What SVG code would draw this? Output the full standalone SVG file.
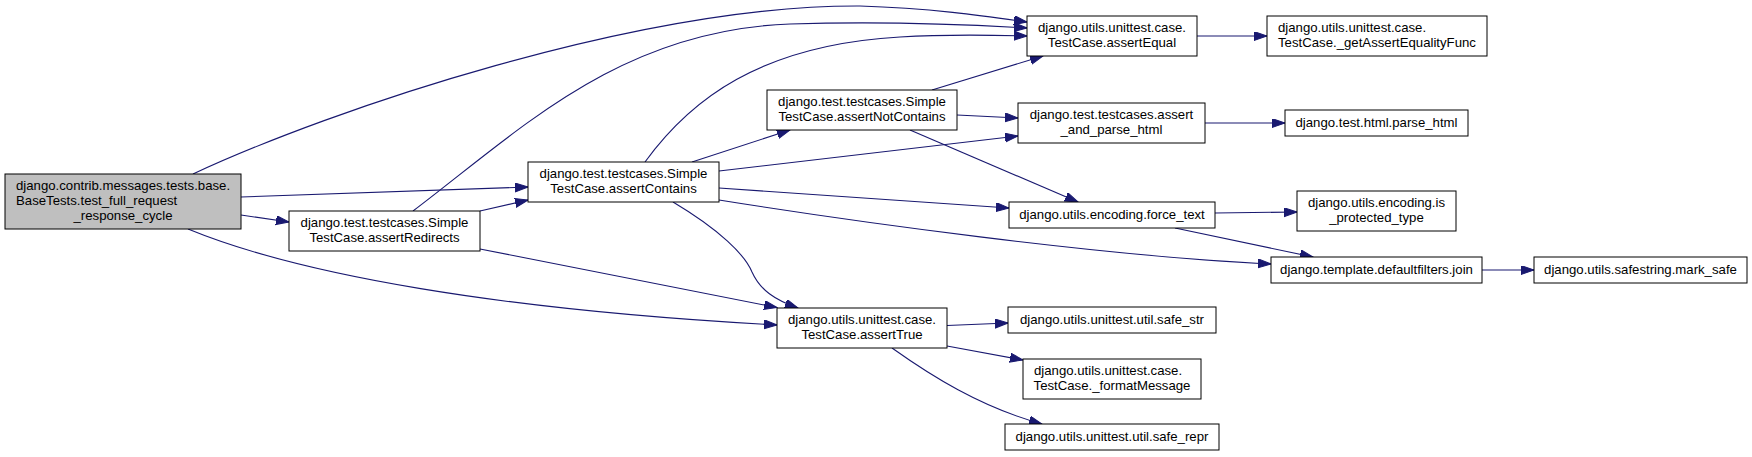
<svg xmlns="http://www.w3.org/2000/svg" width="1752" height="457" viewBox="0 0 1752 457">
<defs>
<style>
.node rect{fill:#ffffff;stroke:#000000;stroke-width:1}
.node.root rect{fill:#bfbfbf}
.node text{font-family:"Liberation Sans",Arial,sans-serif;font-size:13.2px;fill:#000000}
.m{text-anchor:middle}
.s{text-anchor:start}
.edges path{fill:none;stroke:#191970;stroke-width:1.1;marker-end:url(#arr)}
</style>
<marker id="arr" markerWidth="14" markerHeight="10" refX="13" refY="4.5" orient="auto" markerUnits="userSpaceOnUse">
<path d="M0,0 L13,4.5 L0,9 z" fill="#191970" stroke="#191970" stroke-width="1"/>
</marker>
</defs>
<rect width="1752" height="457" fill="#ffffff"/>
<g class="edges" id="edges">
<path d="M193,174 C330,110 640,5 860,6 C930,8 985,16 1027,22"/>
<path d="M413,211 C520,130 620,30 790,24 C880,21 960,24 1027,28"/>
<path d="M645,162 C690,100 760,45 900,37 C950,34 990,35 1027,36"/>
<path d="M692,162 L790,130"/>
<path d="M932,90 L1043,56"/>
<path d="M957,115 L1018,118"/>
<path d="M910,130 L1078,202"/>
<path d="M719,171 L1018,136"/>
<path d="M719,188 L1009,208"/>
<path d="M719,200 C850,221 1100,256 1271,264"/>
<path d="M1175,228 L1313,257"/>
<path d="M1215,213 L1297,212"/>
<path d="M1482,270 L1534,270"/>
<path d="M1197,36 L1267,36"/>
<path d="M1205,123 L1285,123"/>
<path d="M673,202 C720,230 745,255 752,272 C760,290 775,300 798,308"/>
<path d="M241,215 L289,222"/>
<path d="M241,197 L528,187"/>
<path d="M480,211 L528,200"/>
<path d="M480,249 L777,307.5"/>
<path d="M188,229 C300,275 500,310 777,325"/>
<path d="M947,325.5 L1008,323"/>
<path d="M947,346 L1023,360"/>
<path d="M892,348 C930,375 980,407 1042,424"/>
</g>
<g class="node root" id="n_test_full_request_response_cycle">
<rect x="5" y="174" width="236" height="55"/>
<text class="s" x="16" y="189.5">django.contrib.messages.tests.base.</text>
<text class="s" x="16" y="204.5">BaseTests.test_full_request</text>
<text class="m" x="123" y="219.5">_response_cycle</text>
</g>
<g class="node" id="n_assertRedirects">
<rect x="289" y="211" width="191" height="40"/>
<text class="m" x="384.5" y="227">django.test.testcases.Simple</text>
<text class="m" x="384.5" y="241.5">TestCase.assertRedirects</text>
</g>
<g class="node" id="n_assertContains">
<rect x="528" y="162" width="191" height="40"/>
<text class="m" x="623.5" y="178">django.test.testcases.Simple</text>
<text class="m" x="623.5" y="192.5">TestCase.assertContains</text>
</g>
<g class="node" id="n_assertNotContains">
<rect x="767" y="90" width="190" height="40"/>
<text class="m" x="862" y="106">django.test.testcases.Simple</text>
<text class="m" x="862" y="120.5">TestCase.assertNotContains</text>
</g>
<g class="node" id="n_assertEqual">
<rect x="1027" y="16" width="170" height="40"/>
<text class="m" x="1112" y="32">django.utils.unittest.case.</text>
<text class="m" x="1112" y="46.5">TestCase.assertEqual</text>
</g>
<g class="node" id="n_getAssertEqualityFunc">
<rect x="1267" y="16" width="220" height="40"/>
<text class="s" x="1278" y="32">django.utils.unittest.case.</text>
<text class="m" x="1377" y="46.5">TestCase._getAssertEqualityFunc</text>
</g>
<g class="node" id="n_assert_and_parse_html">
<rect x="1018" y="103" width="187" height="40"/>
<text class="m" x="1111.5" y="119">django.test.testcases.assert</text>
<text class="m" x="1111.5" y="133.5">_and_parse_html</text>
</g>
<g class="node" id="n_parse_html">
<rect x="1285" y="110" width="183" height="26"/>
<text class="m" x="1376.5" y="127">django.test.html.parse_html</text>
</g>
<g class="node" id="n_force_text">
<rect x="1009" y="202" width="206" height="26"/>
<text class="m" x="1112" y="219">django.utils.encoding.force_text</text>
</g>
<g class="node" id="n_is_protected_type">
<rect x="1297" y="191" width="159" height="40"/>
<text class="m" x="1376.5" y="207">django.utils.encoding.is</text>
<text class="m" x="1376.5" y="221.5">_protected_type</text>
</g>
<g class="node" id="n_join">
<rect x="1271" y="257" width="211" height="26"/>
<text class="m" x="1376.5" y="274">django.template.defaultfilters.join</text>
</g>
<g class="node" id="n_mark_safe">
<rect x="1534" y="257" width="213" height="26"/>
<text class="m" x="1640.5" y="274">django.utils.safestring.mark_safe</text>
</g>
<g class="node" id="n_assertTrue">
<rect x="777" y="308" width="170" height="40"/>
<text class="m" x="862" y="324">django.utils.unittest.case.</text>
<text class="m" x="862" y="338.5">TestCase.assertTrue</text>
</g>
<g class="node" id="n_safe_str">
<rect x="1008" y="307" width="208" height="26"/>
<text class="m" x="1112" y="324">django.utils.unittest.util.safe_str</text>
</g>
<g class="node" id="n_formatMessage">
<rect x="1023" y="359" width="178" height="40"/>
<text class="s" x="1034" y="375">django.utils.unittest.case.</text>
<text class="m" x="1112" y="389.5">TestCase._formatMessage</text>
</g>
<g class="node" id="n_safe_repr">
<rect x="1005" y="424" width="214" height="26"/>
<text class="m" x="1112" y="441">django.utils.unittest.util.safe_repr</text>
</g>
</svg>
